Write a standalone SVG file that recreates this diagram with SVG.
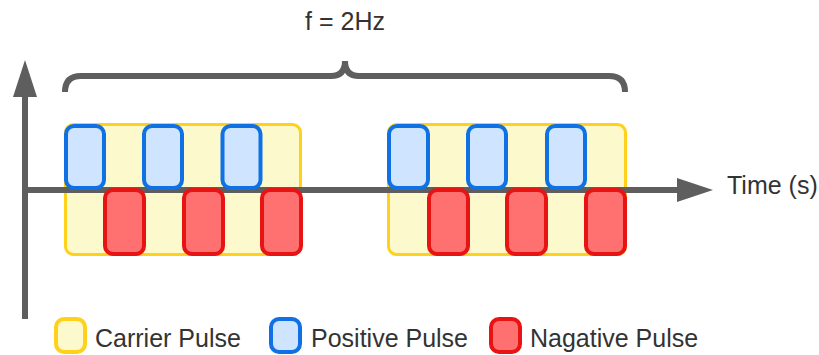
<svg xmlns="http://www.w3.org/2000/svg" width="819" height="355" viewBox="0 0 819 355">
<style>
.txt{font-family:"Liberation Sans",Arial,sans-serif;font-size:25px;fill:#333333}
.carrier{fill:#FCF9CD;stroke:#FFD11A;stroke-width:3}
.pos{fill:#CFE4FF;stroke:#1071E5;stroke-width:4}
.neg{fill:#FF7070;stroke:#E81313;stroke-width:4}
.axis{stroke:#5E5E5E;stroke-width:6;fill:none}
.head{fill:#5E5E5E}
</style>
<rect width="819" height="355" fill="#ffffff"/>
<g id="carrier1"><rect class="carrier" x="65.5" y="124.5" width="235" height="130" rx="8"/></g>
<g id="carrier2"><rect class="carrier" x="388.5" y="124.5" width="237" height="130" rx="8"/></g>
<g id="connectors">
<line class="axis" x1="25" y1="95" x2="25" y2="319"/>
<polygon class="head" points="25,60 37,97 13,97"/>
<line class="axis" x1="22" y1="190" x2="679" y2="190"/>
<polygon class="head" points="713,190 677,178 677,202"/>
<path class="axis" d="M65 92 Q65 76 81 76 L331 76 Q345 76 345 61 Q345 76 359 76 L609 76 Q625 76 625 92"/>
</g>
<g id="pos1"><rect class="pos" x="66" y="126" width="38" height="62" rx="8"/></g>
<g id="pos2"><rect class="pos" x="144" y="126" width="38" height="62" rx="8"/></g>
<g id="pos3"><rect class="pos" x="222.5" y="126" width="38" height="62" rx="8"/></g>
<g id="neg1"><rect class="neg" x="105" y="190" width="39" height="64" rx="8"/></g>
<g id="neg2"><rect class="neg" x="184" y="190" width="39" height="64" rx="8"/></g>
<g id="neg3"><rect class="neg" x="262" y="190" width="39" height="64" rx="8"/></g>
<g id="pos4"><rect class="pos" x="389" y="126" width="39" height="62" rx="8"/></g>
<g id="pos5"><rect class="pos" x="468" y="126" width="38" height="62" rx="8"/></g>
<g id="pos6"><rect class="pos" x="547" y="126" width="38" height="62" rx="8"/></g>
<g id="neg4"><rect class="neg" x="429" y="190" width="39" height="64" rx="8"/></g>
<g id="neg5"><rect class="neg" x="507" y="190" width="39" height="64" rx="8"/></g>
<g id="neg6"><rect class="neg" x="586" y="190" width="39" height="64" rx="8"/></g>
<g id="label-f"><text class="txt" x="345" y="30" text-anchor="middle">f = 2Hz</text></g>
<g id="label-time"><text class="txt" x="727" y="194">Time (s)</text></g>
<g id="legend">
<rect class="carrier" x="56" y="319" width="29" height="33" rx="8" style="stroke-width:4"/>
<text class="txt" x="95" y="347">Carrier Pulse</text>
<rect class="pos" x="271" y="319" width="29" height="33" rx="8"/>
<text class="txt" x="311" y="347">Positive Pulse</text>
<rect class="neg" x="491" y="319" width="29" height="33" rx="8"/>
<text class="txt" x="530" y="347">Nagative Pulse</text>
</g>
</svg>
